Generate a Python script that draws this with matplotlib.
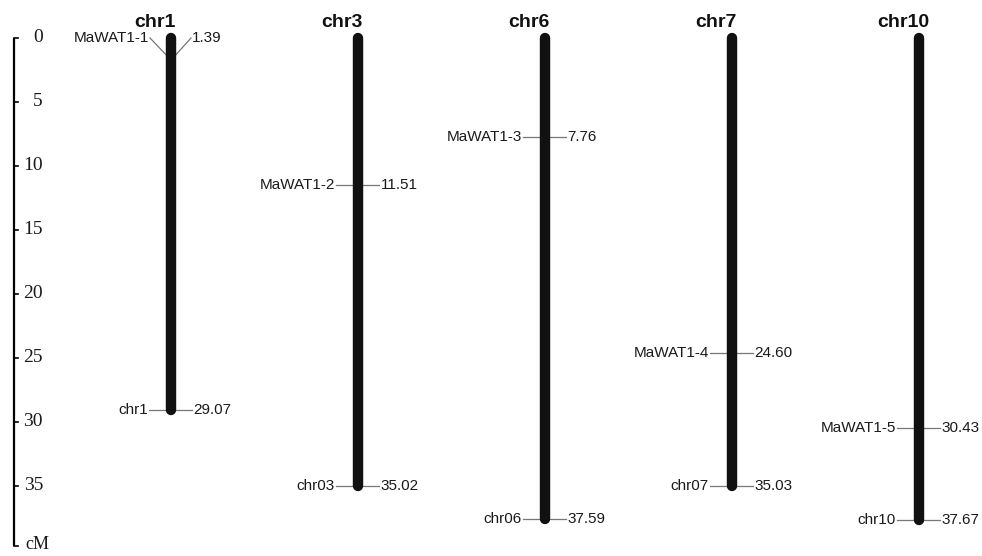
import matplotlib.pyplot as plt

# chromosome map data (cM)
chrom_names = ['chr1', 'chr3', 'chr6', 'chr7', 'chr10']
chrom_lengths = [29.07, 35.02, 37.59, 35.03, 37.67]
end_labels = ['chr1', 'chr03', 'chr06', 'chr07', 'chr10']
gene_names = ['MaWAT1-1', 'MaWAT1-2', 'MaWAT1-3', 'MaWAT1-4', 'MaWAT1-5']
gene_pos = [1.39, 11.51, 7.76, 24.60, 30.43]
scale_ticks = [0, 5, 10, 15, 20, 25, 30, 35]

plt.rcParams['font.family'] = ['Liberation Sans', 'DejaVu Sans']

fig = plt.figure(figsize=(9.82, 5.56), dpi=100)
ax = fig.add_axes([0, 0, 1, 1])
px_per_cm = 12.8
top_px = 38
ax.set_xlim(0, 982)
ax.set_ylim((556 - top_px) / px_per_cm, -top_px / px_per_cm)
ax.axis('off')

txt_col = '#1a1a1a'
line_col = '#777777'
xs = [171, 358, 545, 732, 919]

# scale bar
scale_end = 39.7
ax.plot([14.5, 14.5], [0, scale_end], color='black', lw=1.6, solid_capstyle='butt')
for t in scale_ticks + [scale_end]:
    ax.plot([14.5, 18], [t, t], color='black', lw=1.2)
for t in scale_ticks:
    ax.text(43, t, str(t), ha='right', va='center', fontsize=14,
            family='Liberation Serif', color=txt_col)
ax.text(25, 39.6, 'cM', ha='left', va='center', fontsize=13,
        family='Liberation Serif', color=txt_col)

fs = 11


def marker(x, y, left, right, diagonal=False):
    if diagonal:
        ly = 0
        ax.plot([x - 21, x - 4], [ly, y], color=line_col, lw=0.9)
        ax.plot([x + 4, x + 20], [y, ly], color=line_col, lw=0.9)
        ax.text(x - 22, ly, left, ha='right', va='center', fontsize=fs, color=txt_col)
        ax.text(x + 21, ly, right, ha='left', va='center', fontsize=fs, color=txt_col)
    else:
        ax.plot([x - 22, x - 5], [y, y], color=line_col, lw=0.9)
        ax.plot([x + 5, x + 21], [y, y], color=line_col, lw=0.9)
        ax.text(x - 23, y, left, ha='right', va='center', fontsize=fs, color=txt_col)
        ax.text(x + 22.5, y, right, ha='left', va='center', fontsize=fs, color=txt_col)


for i, name in enumerate(chrom_names):
    x = xs[i]
    ax.plot([x, x], [0, chrom_lengths[i]], color='#111111', lw=7.5,
            solid_capstyle='round', zorder=3)
    ax.text(x - 16, -0.86, name, ha='center', va='baseline', fontsize=14,
            fontweight='bold', color='#111111')
    marker(x, gene_pos[i], gene_names[i], f'{gene_pos[i]:.2f}', diagonal=(i == 0))
    marker(x, chrom_lengths[i], end_labels[i], f'{chrom_lengths[i]:.2f}')

fig.savefig('out.png', dpi=100, facecolor='white')
